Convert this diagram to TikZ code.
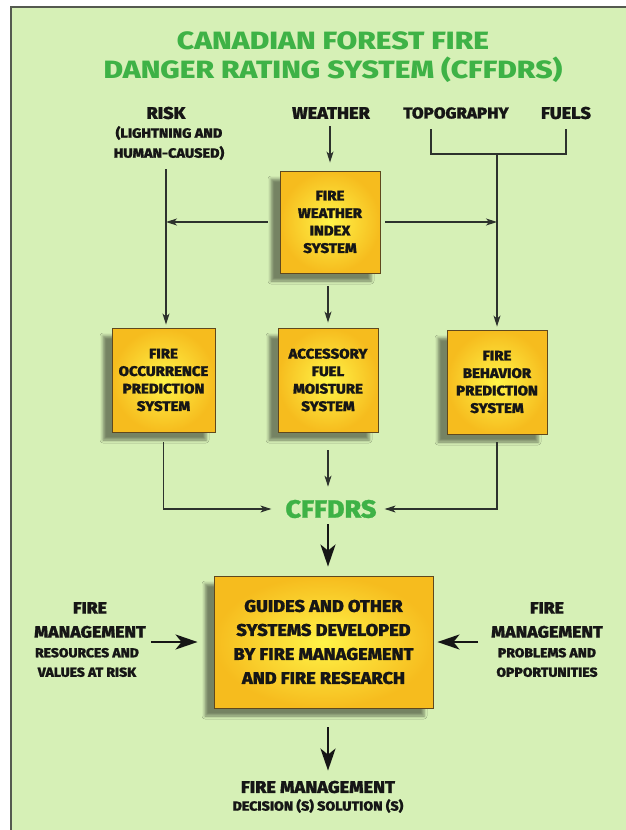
\documentclass[tikz,border=0pt]{standalone}
\usepackage{fontspec}
\setmainfont{Fira Sans}[BoldFont={Fira Sans ExtraBold}, BoldFeatures={FakeStretch=1.07, FakeBold=1}]
\newfontfamily\titlefont{Fira Sans ExtraBold}[FakeStretch=1.2]
\usetikzlibrary{arrows.meta,shadows.blur,calc}
\definecolor{bggreen}{RGB}{214,240,182}
\definecolor{framegray}{RGB}{85,90,80}
\definecolor{titlegreen}{RGB}{62,178,70}
\definecolor{boxin}{RGB}{255,244,72}
\definecolor{boxout}{RGB}{246,188,30}
\definecolor{boxedge}{RGB}{95,72,30}
\definecolor{ink}{RGB}{22,22,22}
\definecolor{linegray}{RGB}{45,50,45}
\begin{document}
\begin{tikzpicture}[x=1pt,y=-1pt,
  sysbox/.style={draw=boxedge, line width=0.9pt, inner color=boxin, outer color=boxout,
    align=center, text=ink, font=\fontsize{14}{17.5}\selectfont\bfseries,
    blur shadow={shadow xshift=-9pt, shadow yshift=-8pt, shadow blur radius=3pt, shadow opacity=45}},
  biglbl/.style={align=center, text=ink, inner sep=1pt, font=\fontsize{17}{24}\selectfont\bfseries},
  smalllbl/.style={align=center, text=ink, inner sep=1pt, font=\fontsize{13}{19.5}\selectfont\bfseries},
  thinline/.style={draw=linegray, line width=1.1pt},
  thinarrow/.style={thinline, -{Stealth[length=11pt,width=7pt,inset=3pt]}},
  bigarrow/.style={draw=ink, line width=2.4pt, -{Stealth[length=22pt,width=15pt,inset=6pt]}},
]
\useasboundingbox (0,0) rectangle (626,830);
\fill[white] (0,0) rectangle (626,830);
\fill[bggreen] (11,7) rectangle (626,830);
\draw[framegray, line width=1.4pt] (11,830) -- (11,7) -- (626,7);

% title
\node[text=titlegreen, align=center, font=\fontsize{25}{29.5}\selectfont\titlefont] (title) at (333,57)
  {CANADIAN FOREST FIRE\\DANGER RATING SYSTEM (CFFDRS)};

% inputs
\node[biglbl] (risk) at (166,113) {RISK};
\node[smalllbl, font=\fontsize{13.5}{20}\selectfont\bfseries] (risksub) at (169,143) {(LIGHTNING AND\\HUMAN-CAUSED)};
\node[biglbl] (weather) at (331,113) {WEATHER};
\node[biglbl, font=\fontsize{15.8}{24}\selectfont\bfseries] (topo) at (456,113) {TOPOGRAPHY};
\node[biglbl] (fuels) at (566,113) {FUELS};

% systems
\node[sysbox, minimum width=100pt, minimum height=102pt] (fwi) at (330,222) {FIRE\\WEATHER\\INDEX\\SYSTEM};
\node[sysbox, minimum width=103pt, minimum height=104pt] (fop) at (163.5,380) {FIRE\\OCCURRENCE\\PREDICTION\\SYSTEM};
\node[sysbox, minimum width=100pt, minimum height=104pt] (afm) at (328,380) {ACCESSORY\\FUEL\\MOISTURE\\SYSTEM};
\node[sysbox, minimum width=100pt, minimum height=104pt] (fbp) at (497,382) {FIRE\\BEHAVIOR\\PREDICTION\\SYSTEM};

\node[text=titlegreen, inner sep=3pt, font=\fontsize{25}{28}\selectfont\bfseries] (cffdrs) at (331,509) {CFFDRS};

\node[sysbox, minimum width=219pt, minimum height=132pt, font=\fontsize{17}{24}\selectfont\bfseries] (guides) at (323.5,642)
  {GUIDES AND OTHER\\SYSTEMS DEVELOPED\\BY FIRE MANAGEMENT\\AND FIRE RESEARCH};

% side labels
\node[biglbl, font=\fontsize{16.5}{24}\selectfont\bfseries] (lmgmt) at (90,620) {FIRE\\MANAGEMENT};
\node[smalllbl] (lres) at (87,662.5) {RESOURCES AND\\VALUES AT RISK};
\node[biglbl, font=\fontsize{16.5}{24}\selectfont\bfseries] (rmgmt) at (547,620) {FIRE\\MANAGEMENT};
\node[smalllbl] (rprob) at (547,662.5) {PROBLEMS AND\\OPPORTUNITIES};

% output
\node[biglbl] (decision) at (318,787) {FIRE MANAGEMENT};
\node[smalllbl, font=\fontsize{13.3}{19.5}\selectfont\bfseries] (decsub) at (318,806) {DECISION (S) SOLUTION (S)};

% junctions
\coordinate (jl) at (166,222);
\coordinate (jr) at (497,222);
\coordinate (tl) at (431,129);
\coordinate (tr) at (566,129);
\coordinate (tj) at (497,154);

% connectors
\draw[thinarrow, shorten <=6pt, shorten >=8pt] (fwi.north |- weather.south) -- (fwi.north);
\draw[thinline] (tl) -- (tl |- tj) -- (tr |- tj) -- (tr);
\draw[thinarrow, shorten >=3pt] (tj) -- (tj |- fbp.north);
\draw[thinarrow, shorten <=8pt, shorten >=3pt] (jl |- risksub.south) -- (jl |- fop.north);
\draw[thinarrow, shorten <=12pt] (fwi.west) -- (jl);
\draw[thinarrow, shorten <=5pt] (fwi.east) -- (jr);
\draw[thinarrow, shorten <=13pt, shorten >=5pt] (afm.north |- fwi.south) -- (afm.north);

\draw[thinarrow, shorten <=10pt, shorten >=11pt] (fop.south) |- (cffdrs.west);
\draw[thinarrow, shorten <=8pt, shorten >=5pt] (fbp.south) |- (cffdrs.east);
\draw[thinarrow, shorten <=18pt, shorten >=10pt] (afm.south) -- (afm.south |- cffdrs.north);

\draw[bigarrow, shorten <=3pt, shorten >=9pt] (afm.south |- cffdrs.south) -- (afm.south |- guides.north);
\draw[bigarrow, shorten <=19pt, shorten >=9pt] (afm.south |- guides.south) -- (afm.south |- decision.north);
\draw[bigarrow, shorten >=16pt] ([xshift=4pt]lmgmt.east |- guides.west) -- (guides.west);
\draw[bigarrow, shorten >=4pt] ([xshift=-12pt]rmgmt.west |- guides.east) -- (guides.east);
\end{tikzpicture}
\end{document}
